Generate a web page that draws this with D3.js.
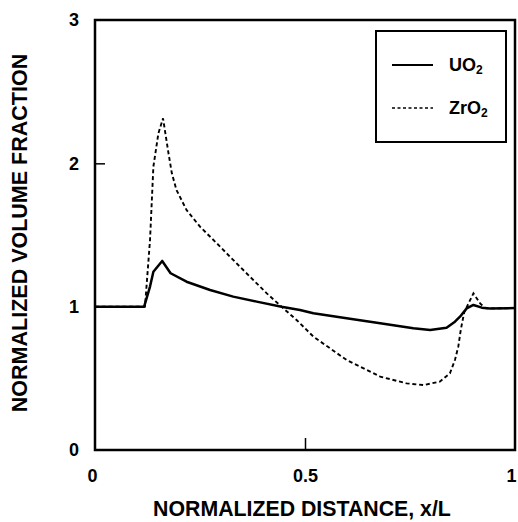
<!DOCTYPE html>
<html><head><meta charset="utf-8">
<script src="https://cdn.jsdelivr.net/npm/d3@7"></script>
<style>body{margin:0;background:#fff}svg{display:block}</style>
</head><body>
<script>
// Data
const uo2X = [0, 0.117, 0.131, 0.139, 0.160, 0.180, 0.218, 0.274, 0.329, 0.385, 0.444, 0.488, 0.52, 0.599, 0.679, 0.758, 0.798, 0.837, 0.857, 0.869, 0.885, 0.901, 0.921, 0.94, 1.0];
const uo2Y = [1.0, 1.0, 1.14, 1.244, 1.319, 1.233, 1.174, 1.116, 1.07, 1.035, 1.0, 0.977, 0.954, 0.919, 0.884, 0.849, 0.837, 0.853, 0.895, 0.93, 0.988, 1.012, 0.993, 0.988, 0.99];
const zro2X = [0, 0.119, 0.131, 0.139, 0.151, 0.162, 0.175, 0.183, 0.194, 0.218, 0.25, 0.29, 0.329, 0.369, 0.409, 0.444, 0.48, 0.52, 0.599, 0.679, 0.742, 0.782, 0.821, 0.845, 0.857, 0.865, 0.871, 0.879, 0.901, 0.917, 0.929, 0.94, 1.0];
const zro2Y = [1.0, 1.0, 1.465, 1.977, 2.21, 2.314, 2.07, 1.93, 1.814, 1.674, 1.558, 1.442, 1.326, 1.209, 1.093, 1.0, 0.907, 0.791, 0.628, 0.512, 0.465, 0.453, 0.477, 0.535, 0.628, 0.721, 0.84, 0.96, 1.093, 1.023, 0.99, 0.988, 0.99];
const xTicks = [0, 0.5, 1];
const xTickLabels = ["0", "0.5", "1"];
const yTicks = [0, 1, 2, 3];
const yTickLabels = ["0", "1", "2", "3"];
const seriesNames = ["UO", "ZrO"];

const W = 518, H = 522;
const m = {left: 95, top: 20, right: 3, bottom: 72};
const svg = d3.select("body").append("svg").attr("width", W).attr("height", H);
const x = d3.scaleLinear().domain([0, 1]).range([m.left, W - m.right]);
const y = d3.scaleLinear().domain([0, 3]).range([H - m.bottom, m.top]);
const font = "'Liberation Sans', Arial, Helvetica, sans-serif";

// frame
svg.append("rect").attr("x", x(0)).attr("y", y(3)).attr("width", x(1) - x(0)).attr("height", y(0) - y(3))
  .attr("fill", "none").attr("stroke", "#000").attr("stroke-width", 2.5);

// axes (inward ticks)
const xAxis = svg.append("g").attr("transform", `translate(0,${y(0)})`)
  .call(d3.axisBottom(x).tickValues(xTicks).tickSize(-12).tickPadding(19).tickFormat((d, i) => xTickLabels[i]));
const yAxis = svg.append("g").attr("transform", `translate(${x(0)},0)`)
  .call(d3.axisLeft(y).tickValues(yTicks).tickSize(-10).tickPadding(16).tickFormat((d, i) => yTickLabels[i]));
[xAxis, yAxis].forEach(g => {
  g.select(".domain").remove();
  g.selectAll(".tick line").attr("stroke", "#000").attr("stroke-width", 1.5);
  g.selectAll(".tick text").attr("font-family", font).attr("font-weight", "bold").attr("font-size", 18).attr("fill", "#000");
});
xAxis.selectAll(".tick").filter(d => d === 0 || d === 1).select("line").remove();
yAxis.selectAll(".tick").filter(d => d === 0 || d === 3).select("line").remove();
xAxis.selectAll(".tick").filter(d => d === 0).select("text").attr("dx", -3);
xAxis.selectAll(".tick").filter(d => d === 1).select("text").attr("dx", -4);

// lines
const line = d3.line().x(d => x(d[0])).y(d => y(d[1]));
svg.append("path").datum(zro2X.map((v, i) => [v, zro2Y[i]])).attr("d", line)
  .attr("fill", "none").attr("stroke", "#000").attr("stroke-width", 1.9).attr("stroke-dasharray", "4,2.8");
svg.append("path").datum(uo2X.map((v, i) => [v, uo2Y[i]])).attr("d", line)
  .attr("fill", "none").attr("stroke", "#000").attr("stroke-width", 2.5).attr("stroke-linejoin", "round");

// axis titles
svg.append("text").attr("x", 302).attr("y", 516).attr("text-anchor", "middle")
  .attr("font-family", font).attr("font-weight", "bold").attr("font-size", 21.3).text("NORMALIZED DISTANCE, x/L");
svg.append("text").attr("transform", `translate(27,233) rotate(-90)`).attr("text-anchor", "middle")
  .attr("font-family", font).attr("font-weight", "bold").attr("font-size", 21.5).text("NORMALIZED VOLUME FRACTION");

// legend
const lg = svg.append("g");
lg.append("rect").attr("x", 376).attr("y", 31).attr("width", 130).attr("height", 111)
  .attr("fill", "#fff").attr("stroke", "#000").attr("stroke-width", 2);
const legY = [65, 108];
const dashes = [null, "3,2.5"];
seriesNames.forEach((n, i) => {
  lg.append("line").attr("x1", 392).attr("x2", 433).attr("y1", legY[i]).attr("y2", legY[i])
    .attr("stroke", "#000").attr("stroke-width", i === 0 ? 2 : 1.6).attr("stroke-dasharray", dashes[i]);
  const t = lg.append("text").attr("x", 449).attr("y", legY[i] + 6)
    .attr("font-family", font).attr("font-weight", "bold").attr("font-size", 18).text(n);
  t.append("tspan").attr("font-size", 12).attr("dy", 3).text("2");
});
</script>
</body></html>
